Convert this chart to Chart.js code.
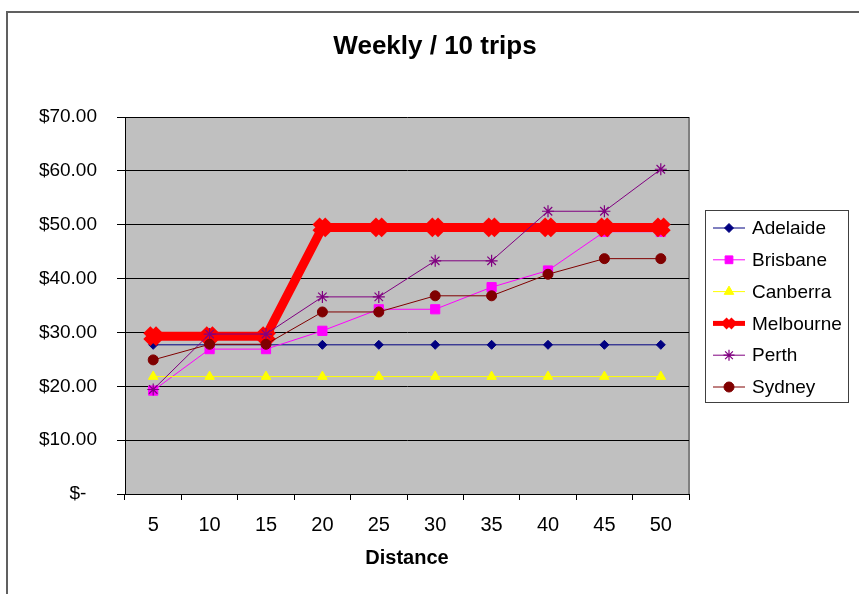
<!DOCTYPE html>
<html>
<head>
<meta charset="utf-8">
<script src="https://cdn.jsdelivr.net/npm/chart.js@4/dist/chart.umd.min.js"></script>
<style>
  html, body { margin: 0; padding: 0; background: #ffffff; }
  #wrap { width: 859px; height: 594px; }
</style>
</head>
<body>
<div id="wrap"><canvas id="chart" width="859" height="594"></canvas></div>
<script>
// Fare per distance band (weekly price for 10 trips)
const distances = ['5', '10', '15', '20', '25', '30', '35', '40', '45', '50'];
const adelaide  = [27.70, 27.70, 27.70, 27.70, 27.70, 27.70, 27.70, 27.70, 27.70, 27.70];
const brisbane  = [19.20, 26.90, 26.90, 30.30, 34.30, 34.30, 38.40, 41.50, 48.70, 48.70];
const canberra  = [21.80, 21.80, 21.80, 21.80, 21.80, 21.80, 21.80, 21.80, 21.80, 21.80];
const melbourne = [29.30, 29.30, 29.30, 49.50, 49.50, 49.50, 49.50, 49.50, 49.50, 49.50];
const perth     = [19.40, 29.70, 29.70, 36.60, 36.60, 43.30, 43.30, 52.50, 52.50, 60.30];
const sydney    = [24.90, 27.80, 27.80, 33.80, 33.80, 36.80, 36.80, 40.80, 43.70, 43.70];

const chartTitle = 'Weekly / 10 trips';
const xTitle = 'Distance';
const yMin = 0, yMax = 70, yStep = 10;

const FONT = "'Liberation Sans', Arial, Helvetica, sans-serif";

function series(label, data, color, style, radius, lineWidth, pointBorder, order) {
  return {
    label, data, order,
    borderColor: color, backgroundColor: color,
    pointBackgroundColor: color, pointBorderColor: color,
    borderWidth: lineWidth,
    pointStyle: style, pointRadius: radius, pointHoverRadius: radius,
    pointBorderWidth: pointBorder,
    tension: 0, fill: false
  };
}

const datasets = [
  series('Adelaide',  adelaide,  '#000080', 'rectRot',  4.5, 1, 1, 6),
  series('Brisbane',  brisbane,  '#ff00ff', 'rect',     6.5, 1, 1, 5),
  series('Canberra',  canberra,  '#ffff00', 'triangle', 5.5, 1, 1, 4),
  series('Melbourne', melbourne, '#ff0000', 'crossRot', 9,   9, 10, 3),
  series('Perth',     perth,     '#800080', 'star',     6,   1, 1.2, 2),
  series('Sydney',    sydney,    '#800000', 'circle',   5,   1, 1, 1)
];

// white page, outer frame, grey plot area
const backdrop = {
  id: 'backdrop',
  beforeDraw(chart) {
    const { ctx, chartArea: a } = chart;
    ctx.save();
    ctx.fillStyle = '#ffffff';
    ctx.fillRect(0, 0, chart.width, chart.height);
    ctx.strokeStyle = '#606060';
    ctx.lineWidth = 2;
    ctx.strokeRect(7, 12, chart.width + 20, chart.height + 20);
    ctx.fillStyle = '#c0c0c0';
    ctx.fillRect(a.left, a.top, a.right - a.left, a.bottom - a.top);
    ctx.strokeStyle = '#808080';
    ctx.lineWidth = 2;
    ctx.beginPath();
    ctx.moveTo(a.right, a.top);
    ctx.lineTo(a.right, a.bottom);
    ctx.stroke();
    ctx.restore();
  }
};

// chart heading
const heading = {
  id: 'heading',
  afterDraw(chart) {
    const ctx = chart.ctx;
    ctx.save();
    ctx.fillStyle = '#000000';
    ctx.font = 'bold 26px ' + FONT;
    ctx.textAlign = 'center';
    ctx.textBaseline = 'alphabetic';
    ctx.fillText(chartTitle, 435, 54);
    ctx.restore();
  }
};

function marker(ctx, ds, x, y) {
  const opts = {
    pointStyle: ds.pointStyle, radius: ds.pointRadius, rotation: 0,
    borderWidth: ds.pointBorderWidth
  };
  ctx.fillStyle = ds.pointBackgroundColor;
  ctx.strokeStyle = ds.pointBorderColor;
  ctx.lineWidth = ds.pointBorderWidth;
  if (Chart.helpers && Chart.helpers.drawPoint) {
    Chart.helpers.drawPoint(ctx, opts, x, y);
  } else {
    ctx.beginPath();
    ctx.arc(x, y, ds.pointRadius, 0, Math.PI * 2);
    ctx.fill();
  }
}

// boxed legend on the right, line + marker samples
const boxLegend = {
  id: 'boxLegend',
  afterDraw(chart) {
    const ctx = chart.ctx;
    const box = { x: 705.5, y: 210.5, w: 143, h: 192 };
    ctx.save();
    ctx.fillStyle = '#ffffff';
    ctx.fillRect(box.x, box.y, box.w, box.h);
    ctx.strokeStyle = '#404040';
    ctx.lineWidth = 1;
    ctx.strokeRect(box.x, box.y, box.w, box.h);
    const rowH = 31.8;
    const first = 228;
    chart.data.datasets.forEach((ds, i) => {
      const y = first + i * rowH;
      ctx.strokeStyle = ds.borderColor;
      ctx.lineWidth = ds.borderWidth > 2 ? 5 : 1;
      ctx.beginPath();
      ctx.moveTo(713, y);
      ctx.lineTo(745, y);
      ctx.stroke();
      const sample = Object.assign({}, ds, {
        pointRadius: ds.borderWidth > 2 ? 6 : Math.min(ds.pointRadius, 5.5),
        pointBorderWidth: ds.borderWidth > 2 ? 5 : ds.pointBorderWidth
      });
      marker(ctx, sample, 729, y);
      ctx.fillStyle = '#000000';
      ctx.font = '19px ' + FONT;
      ctx.textAlign = 'left';
      ctx.textBaseline = 'middle';
      ctx.fillText(ds.label, 752, y + 1);
    });
    ctx.restore();
  }
};

new Chart(document.getElementById('chart'), {
  type: 'line',
  data: { labels: distances, datasets },
  options: {
    responsive: false,
    animation: false,
    devicePixelRatio: 1,
    layout: { padding: { top: 117, right: 170, bottom: 0, left: 0 } },
    plugins: {
      legend: { display: false },
      title: { display: false },
      tooltip: { enabled: false }
    },
    scales: {
      x: {
        type: 'category',
        offset: true,
        afterFit(scale) { scale.height = 100; },
        grid: {
          offset: true, drawOnChartArea: false, drawTicks: true,
          tickLength: 6, color: '#000000', lineWidth: 1
        },
        border: { color: '#000000', width: 1 },
        ticks: {
          color: '#000000', padding: 13, maxRotation: 0, autoSkip: false,
          font: { family: FONT, size: 20 }
        },
        title: {
          display: true, text: xTitle, color: '#000000',
          padding: { top: 0, bottom: 24 },
          font: { family: FONT, size: 20, weight: 'bold' }
        }
      },
      y: {
        min: yMin, max: yMax,
        afterFit(scale) { scale.width = 125; },
        grid: { color: '#000000', lineWidth: 1, tickLength: 8, drawTicks: true },
        border: { color: '#000000', width: 1 },
        ticks: {
          stepSize: yStep, color: '#000000', padding: 20,
          font: { family: FONT, size: 19 },
          callback: (v) => v === 0 ? '$-  ' : '$' + Number(v).toFixed(2)
        }
      }
    }
  },
  plugins: [backdrop, heading, boxLegend]
});
</script>
</body>
</html>
